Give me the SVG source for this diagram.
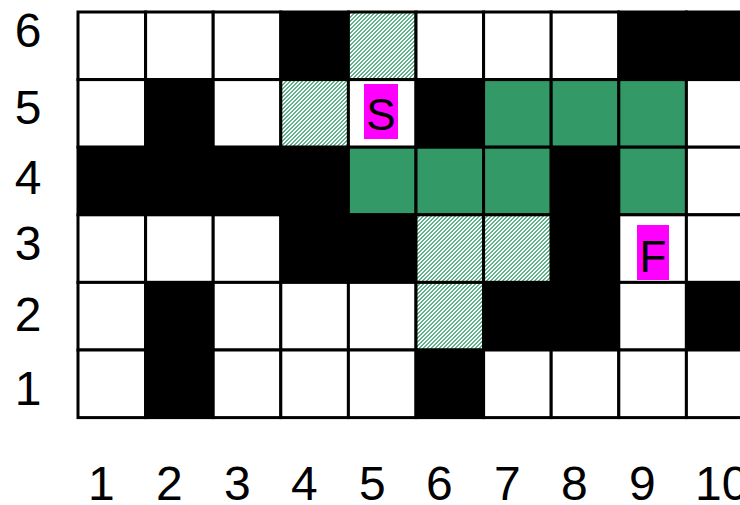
<svg xmlns="http://www.w3.org/2000/svg" width="740" height="505" viewBox="0 0 740 505">
<defs>
<pattern id="hatch" patternUnits="userSpaceOnUse" x="0" y="0" width="4" height="4">
<g shape-rendering="crispEdges" fill="#5fb38a">
<rect width="4" height="4" fill="#ffffff"/>
<rect x="2" y="0" width="2" height="1"/>
<rect x="1" y="1" width="2" height="1"/>
<rect x="0" y="2" width="2" height="1"/>
<rect x="3" y="3" width="1" height="1"/>
<rect x="0" y="3" width="1" height="1"/>
</g>
</pattern>
<style>
.c{stroke:#000;stroke-width:3}
.w{fill:#fff}
.b{fill:#000}
.g{fill:#339966}
.h{fill:url(#hatch)}
.lbl{font-family:"Liberation Sans",Arial,sans-serif;font-size:48px;fill:#000}
.mk{fill:#ff00ff}
.mt{font-family:"Liberation Sans",Arial,sans-serif;font-size:44px;fill:#000;text-anchor:middle}
</style>
</defs>
<rect width="740" height="505" fill="#fff"/>
<g id="grid">
<g id="row6">
<rect class="c w" x="78" y="12" width="67.6" height="67.6"/>
<rect class="c w" x="145.6" y="12" width="67.6" height="67.6"/>
<rect class="c w" x="213.2" y="12" width="67.6" height="67.6"/>
<rect class="c b" x="280.8" y="12" width="67.6" height="67.6"/>
<rect class="c h" x="348.4" y="12" width="67.6" height="67.6"/>
<rect class="c w" x="416" y="12" width="67.6" height="67.6"/>
<rect class="c w" x="483.6" y="12" width="67.6" height="67.6"/>
<rect class="c w" x="551.2" y="12" width="67.6" height="67.6"/>
<rect class="c b" x="618.8" y="12" width="67.6" height="67.6"/>
<rect class="c b" x="686.4" y="12" width="67.6" height="67.6"/>
</g>
<g id="row5">
<rect class="c w" x="78" y="79.6" width="67.6" height="67.6"/>
<rect class="c b" x="145.6" y="79.6" width="67.6" height="67.6"/>
<rect class="c w" x="213.2" y="79.6" width="67.6" height="67.6"/>
<rect class="c h" x="280.8" y="79.6" width="67.6" height="67.6"/>
<rect class="c w" x="348.4" y="79.6" width="67.6" height="67.6"/>
<rect class="c b" x="416" y="79.6" width="67.6" height="67.6"/>
<rect class="c g" x="483.6" y="79.6" width="67.6" height="67.6"/>
<rect class="c g" x="551.2" y="79.6" width="67.6" height="67.6"/>
<rect class="c g" x="618.8" y="79.6" width="67.6" height="67.6"/>
<rect class="c w" x="686.4" y="79.6" width="67.6" height="67.6"/>
</g>
<g id="row4">
<rect class="c b" x="78" y="147.2" width="67.6" height="67.6"/>
<rect class="c b" x="145.6" y="147.2" width="67.6" height="67.6"/>
<rect class="c b" x="213.2" y="147.2" width="67.6" height="67.6"/>
<rect class="c b" x="280.8" y="147.2" width="67.6" height="67.6"/>
<rect class="c g" x="348.4" y="147.2" width="67.6" height="67.6"/>
<rect class="c g" x="416" y="147.2" width="67.6" height="67.6"/>
<rect class="c g" x="483.6" y="147.2" width="67.6" height="67.6"/>
<rect class="c b" x="551.2" y="147.2" width="67.6" height="67.6"/>
<rect class="c g" x="618.8" y="147.2" width="67.6" height="67.6"/>
<rect class="c w" x="686.4" y="147.2" width="67.6" height="67.6"/>
</g>
<g id="row3">
<rect class="c w" x="78" y="214.8" width="67.6" height="67.6"/>
<rect class="c w" x="145.6" y="214.8" width="67.6" height="67.6"/>
<rect class="c w" x="213.2" y="214.8" width="67.6" height="67.6"/>
<rect class="c b" x="280.8" y="214.8" width="67.6" height="67.6"/>
<rect class="c b" x="348.4" y="214.8" width="67.6" height="67.6"/>
<rect class="c h" x="416" y="214.8" width="67.6" height="67.6"/>
<rect class="c h" x="483.6" y="214.8" width="67.6" height="67.6"/>
<rect class="c b" x="551.2" y="214.8" width="67.6" height="67.6"/>
<rect class="c w" x="618.8" y="214.8" width="67.6" height="67.6"/>
<rect class="c w" x="686.4" y="214.8" width="67.6" height="67.6"/>
</g>
<g id="row2">
<rect class="c w" x="78" y="282.4" width="67.6" height="67.6"/>
<rect class="c b" x="145.6" y="282.4" width="67.6" height="67.6"/>
<rect class="c w" x="213.2" y="282.4" width="67.6" height="67.6"/>
<rect class="c w" x="280.8" y="282.4" width="67.6" height="67.6"/>
<rect class="c w" x="348.4" y="282.4" width="67.6" height="67.6"/>
<rect class="c h" x="416" y="282.4" width="67.6" height="67.6"/>
<rect class="c b" x="483.6" y="282.4" width="67.6" height="67.6"/>
<rect class="c b" x="551.2" y="282.4" width="67.6" height="67.6"/>
<rect class="c w" x="618.8" y="282.4" width="67.6" height="67.6"/>
<rect class="c b" x="686.4" y="282.4" width="67.6" height="67.6"/>
</g>
<g id="row1">
<rect class="c w" x="78" y="350" width="67.6" height="67.6"/>
<rect class="c b" x="145.6" y="350" width="67.6" height="67.6"/>
<rect class="c w" x="213.2" y="350" width="67.6" height="67.6"/>
<rect class="c w" x="280.8" y="350" width="67.6" height="67.6"/>
<rect class="c w" x="348.4" y="350" width="67.6" height="67.6"/>
<rect class="c b" x="416" y="350" width="67.6" height="67.6"/>
<rect class="c w" x="483.6" y="350" width="67.6" height="67.6"/>
<rect class="c w" x="551.2" y="350" width="67.6" height="67.6"/>
<rect class="c w" x="618.8" y="350" width="67.6" height="67.6"/>
<rect class="c w" x="686.4" y="350" width="67.6" height="67.6"/>
</g>
</g>
<g id="start">
<rect class="mk" x="364" y="84" width="34" height="55"/>
<text class="mt" x="381" y="130">S</text>
</g>
<g id="finish">
<rect class="mk" x="637" y="225" width="32" height="55"/>
<text class="mt" x="653" y="272">F</text>
</g>
<g id="row-labels" class="lbl" text-anchor="middle">
<text x="28" y="47">6</text>
<text x="28" y="124">5</text>
<text x="28" y="194">4</text>
<text x="28" y="260">3</text>
<text x="28" y="331">2</text>
<text x="28" y="405">1</text>
</g>
<g id="col-labels" class="lbl">
<text x="88" y="500">1</text>
<text x="156" y="500">2</text>
<text x="224" y="500">3</text>
<text x="291" y="500">4</text>
<text x="359" y="500">5</text>
<text x="426" y="500">6</text>
<text x="494" y="500">7</text>
<text x="561" y="500">8</text>
<text x="629" y="500">9</text>
<text x="695" y="500">10</text>
</g>
</svg>
